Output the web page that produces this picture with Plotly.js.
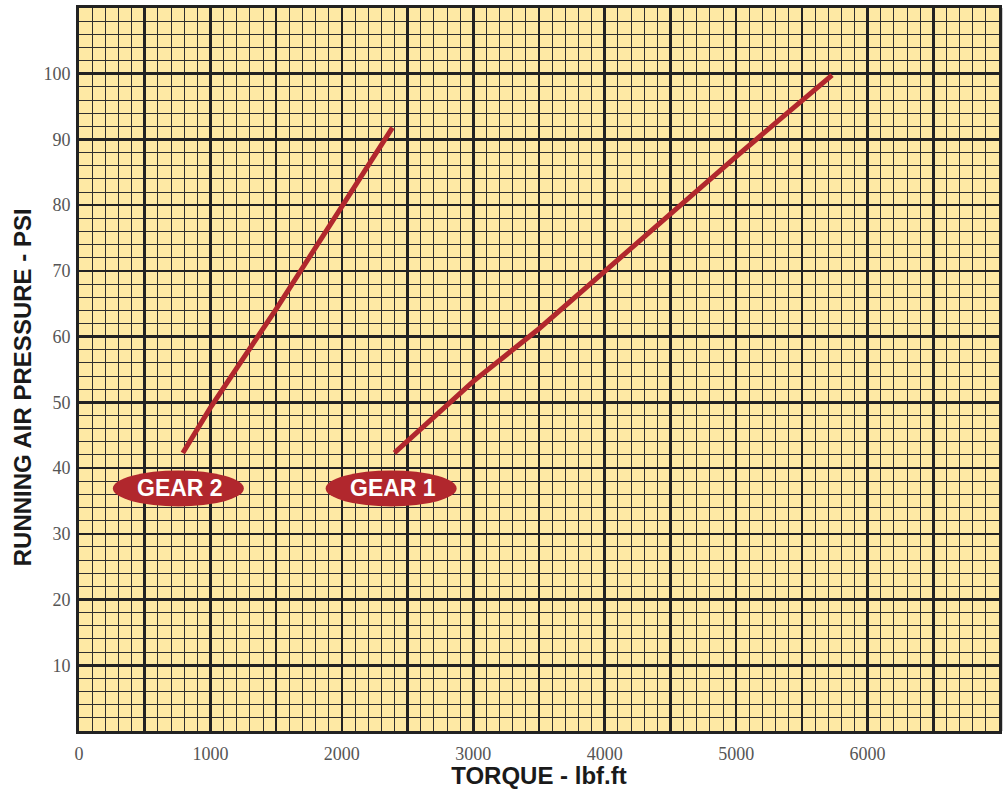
<!DOCTYPE html>
<html>
<head>
<meta charset="utf-8">
<script src="https://cdn.plot.ly/plotly-3.0.1.min.js"></script>
<style>html,body{margin:0;padding:0;background:#fff;}#chart{width:1003px;height:789px;}</style>
</head>
<body>
<div id="chart"></div>
<script>
// ---- data ----
var gear2Torque = [790, 1000, 1500, 2000, 2385];
var gear2Psi    = [42.3, 49.2, 64.2, 79.8, 91.8];
var gear1Torque = [2400, 3000, 3500, 4000, 5000, 5730];
var gear1Psi    = [42.3, 53.2, 61.2, 70.0, 87.4, 99.8];

var xTickVals = [0,500,1000,1500,2000,2500,3000,3500,4000,4500,5000,5500,6000,6500,7000];
var xTickText = ['0','','1000','','2000','','3000','','4000','','5000','','6000','',''];
var yTickVals = [0,10,20,30,40,50,60,70,80,90,100,110];
var yTickText = ['','10','20','30','40','50','60','70','80','90','100',''];

var seriesNames = ['GEAR 2', 'GEAR 1'];
var labelTorque = [756, 2375];
var labelPsi    = [36.9, 36.9];

var red = '#b1272d';
var tickFont = {family: 'Liberation Serif, serif', size: 18, color: '#555'};
var titleFont = {family: 'Liberation Sans, Arial, sans-serif', size: 24, color: '#1a1a1a', weight: 'bold'};

var traces = [
  {x: gear2Torque, y: gear2Psi, name: seriesNames[0], mode: 'lines', line: {color: red, width: 5}},
  {x: gear1Torque, y: gear1Psi, name: seriesNames[1], mode: 'lines', line: {color: red, width: 5}}
];

var shapes = [];
var annotations = [];
for (var i = 0; i < seriesNames.length; i++) {
  shapes.push({
    type: 'circle', xref: 'x', yref: 'y',
    xsizemode: 'pixel', ysizemode: 'pixel',
    xanchor: labelTorque[i], yanchor: labelPsi[i],
    x0: -65.5, x1: 65.5, y0: -18, y1: 18,
    fillcolor: red, line: {width: 0}, layer: 'above'
  });
  annotations.push({
    x: labelTorque[i], y: labelPsi[i], xref: 'x', yref: 'y',
    text: '<b>' + seriesNames[i] + '</b>', showarrow: false,
    font: {family: 'Liberation Sans, Arial, sans-serif', size: 23, color: '#ffffff'},
    xanchor: 'center', yanchor: 'middle', xshift: 2
  });
}
// y-axis title (placed as annotation to match offset)
annotations.push({
  xref: 'paper', yref: 'y', x: 0, y: 52.3, xshift: -57,
  text: '<b>RUNNING AIR PRESSURE - PSI</b>', textangle: -90, showarrow: false,
  font: {family: 'Liberation Sans, Arial, sans-serif', size: 24, color: '#1a1a1a'},
  xanchor: 'center', yanchor: 'middle'
});
// frame shadow
shapes.push({type: 'line', xref: 'paper', yref: 'paper', xsizemode: 'pixel', xanchor: 1, x0: 2.5, x1: 2.5, y0: 0, y1: 1, line: {color: '#9a9a9a', width: 2}, layer: 'below'});

var layout = {
  width: 1003, height: 789,
  margin: {l: 79, r: 4, t: 8, b: 58},
  paper_bgcolor: '#ffffff',
  plot_bgcolor: '#fee9a4',
  showlegend: false,
  xaxis: {
    range: [0, 7000], tickmode: 'array', tickvals: xTickVals, ticktext: xTickText,
    showgrid: true, gridcolor: '#222', gridwidth: 2.6,
    minor: {tickmode: 'linear', tick0: 0, dtick: 100, showgrid: true, gridcolor: '#2e2e2e', gridwidth: 1},
    showline: true, linecolor: '#222', linewidth: 3, mirror: true,
    zeroline: false, ticks: '', tickfont: tickFont, ticklabelstandoff: 4,
    title: {text: '<b>TORQUE - lbf.ft</b>', font: titleFont, standoff: 8}
  },
  yaxis: {
    range: [0, 110], tickmode: 'array', tickvals: yTickVals, ticktext: yTickText,
    showgrid: true, gridcolor: '#222', gridwidth: 2.6,
    minor: {tickmode: 'linear', tick0: 0, dtick: 2, showgrid: true, gridcolor: '#2e2e2e', gridwidth: 1},
    showline: true, linecolor: '#222', linewidth: 3, mirror: true,
    zeroline: false, ticks: '', tickfont: tickFont, ticklabelstandoff: 2
  },
  shapes: shapes,
  annotations: annotations
};

Plotly.newPlot('chart', traces, layout, {displayModeBar: false, staticPlot: true});
</script>
</body>
</html>
